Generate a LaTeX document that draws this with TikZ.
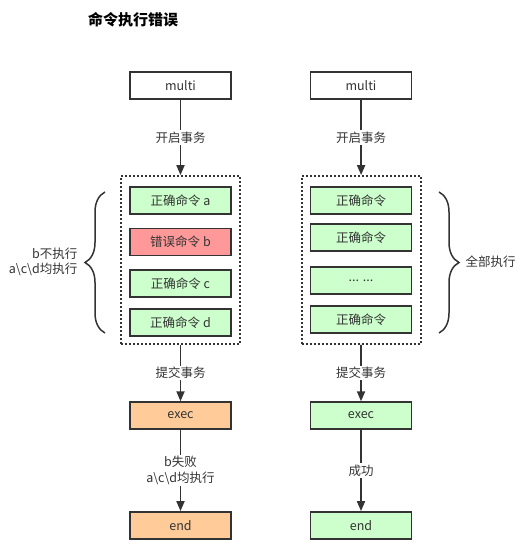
\documentclass[tikz,border=0pt]{standalone}
\usepackage{fontspec}
\setmainfont{Noto Sans CJK SC}
\usetikzlibrary{arrows.meta, positioning, decorations.pathreplacing}
\definecolor{okgreen}{HTML}{CCFFCC}
\definecolor{errred}{HTML}{FF9999}
\definecolor{doneorange}{HTML}{FFCC99}
\definecolor{ink}{HTML}{333333}
\def\bw{101pt}
\def\bh{27pt}
\def\lw{1.8pt}
\tikzset{
    block/.style = {
        draw=ink, rectangle, minimum width=\bw, minimum height=\bh, line width=1.4pt, text=ink, inner sep=0pt
    },
    okcmd/.style = {block, fill=okgreen},
    badcmd/.style = {block, fill=errred},
    donecmd/.style = {block, fill=doneorange},
    group/.style = {
        draw=ink, dash pattern=on 1.8pt off 2.2pt, line width=1.8pt, rectangle, minimum width=119pt, minimum height=168pt
    },
    flow/.style = {draw=ink, line width=\lw, -{Triangle[width=8pt,length=10pt]}},
    lbl/.style = {fill=white, text=ink, inner sep=1.5pt, align=center},
    curly/.style = {draw=ink, line width=1.5pt, decorate, decoration={brace, amplitude=20pt}}
}

\begin{document}
\begin{tikzpicture}[x=1pt, y=-1pt, every node/.style={font=\fontsize{12.5}{15.5}\selectfont}]
    \useasboundingbox (0,0) rectangle (528,554);
    \node[font=\fontsize{15}{17}\selectfont\bfseries, text=black] (title) at (133,20) {命令执行错误};
    % Left column: one command fails
    \node[block] (lmulti) at (180.5,85.5) {multi};
    \node[group] (lgroup) at (180.5,260) {};
    \node[okcmd] (la) at (180.5,200.5) {正确命令 a};
    \node[badcmd] (lb) at (180.5,241.7) {错误命令 b};
    \node[okcmd] (lc) at (180.5,283.3) {正确命令 c};
    \node[okcmd] (ld) at (180.5,322.5) {正确命令 d};
    \node[donecmd] (lexec) at (180.5,415.5) {exec};
    \node[donecmd] (lend) at (180.5,525.3) {end};
    % Right column: all commands run
    \node[block] (rmulti) at (361,85.5) {multi};
    \node[group] (rgroup) at (361.2,260) {};
    \foreach \n/\y/\t in {1/200.3/正确命令, 2/237.5/正确命令, 3/280.3/{... ...}, 4/319.5/正确命令}{
        \node[okcmd] (r\n) at (361,\y) {\t};
    }
    \node[okcmd] (rexec) at (361,415.5) {exec};
    \node[okcmd] (rend) at (361,525.3) {end};
    % Connect the blocks
    \foreach \s in {l, r}{
        \draw[flow] (\s multi) -- node[lbl]{开启事务} (\s group);
        \draw[flow] (\s group) -- node[lbl]{提交事务} (\s exec);
    }
    \draw[flow] (lexec) -- node[lbl]{b失败\\a\textbackslash c\textbackslash d均执行} (lend);
    \draw[flow] (rexec) -- node[lbl]{成功} (rend);
    % Braces
    \draw[curly] (105,333) -- (105,192);
    \node[lbl, anchor=east, align=right] (lnote) at (79,262) {b不执行\\a\textbackslash c\textbackslash d均执行};
    \draw[curly] (439,192) -- (439,333);
    \node[lbl, anchor=west] (rnote) at (464,262) {全部执行};
\end{tikzpicture}
\end{document}
